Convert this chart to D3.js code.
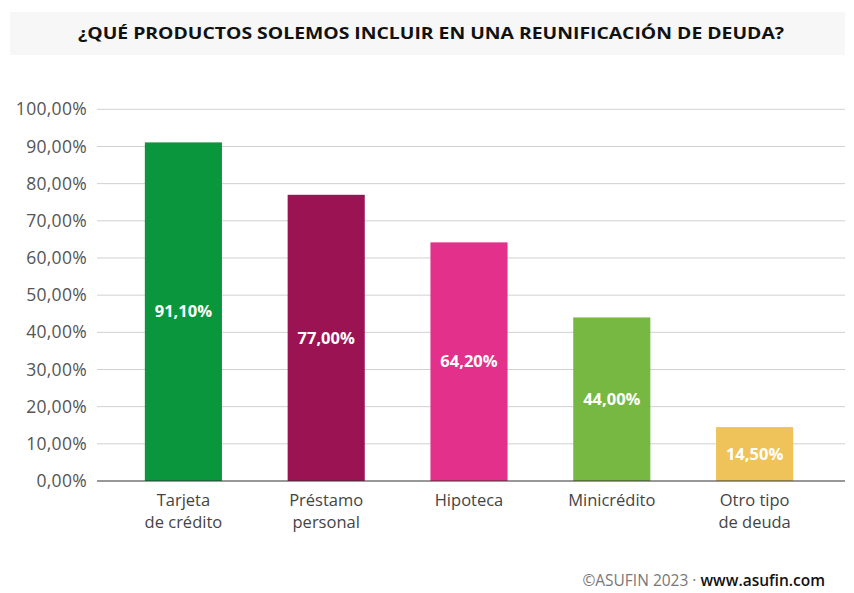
<!DOCTYPE html>
<html>
<head>
<meta charset="utf-8">
<script src="https://cdn.jsdelivr.net/npm/d3@7"></script>
<style>
  body { margin: 0; background: #fff; }
  svg { font-family: "Open Sans", sans-serif; }
</style>
</head>
<body>
<svg width="854" height="593"></svg>
<script>
var categories = [["Tarjeta", "de crédito"], ["Préstamo", "personal"], ["Hipoteca"], ["Minicrédito"], ["Otro tipo", "de deuda"]];
var values = [91.1, 77.0, 64.2, 44.0, 14.5];
var colors = ["#0a963c", "#9b1352", "#e3308a", "#77b843", "#f0c35a"];
var yTicks = [0, 10, 20, 30, 40, 50, 60, 70, 80, 90, 100];

var svg = d3.select('svg');
var fmt = function(v) { return d3.format('.2f')(v).replace('.', ',') + '%'; };

// title band
svg.append('rect')
    .attr('x', 10).attr('y', 12)
    .attr('width', 835).attr('height', 43)
    .attr('fill', '#f7f7f7');

svg.append('text')
    .attr('x', 431).attr('y', 39)
    .attr('text-anchor', 'middle')
    .attr('font-size', 16.5)
    .attr('font-weight', 700)
    .attr('fill', '#111')
    .attr('textLength', 706)
    .attr('lengthAdjust', 'spacingAndGlyphs')
    .text('¿QUÉ PRODUCTOS SOLEMOS INCLUIR EN UNA REUNIFICACIÓN DE DEUDA?');

var x = d3.scaleBand()
    .domain(d3.range(values.length))
    .range([112, 826])
    .paddingInner(0.46)
    .paddingOuter(0.23);

var y = d3.scaleLinear()
    .domain([0, 100])
    .range([481, 109.3]);

// gridlines
svg.append('g')
  .selectAll('line')
  .data(yTicks.slice(1))
  .join('line')
    .attr('x1', 97).attr('x2', 845)
    .attr('y1', function(d) { return y(d); })
    .attr('y2', function(d) { return y(d); })
    .attr('stroke', '#d0d0d0')
    .attr('stroke-width', 1);

// y labels
svg.append('g')
  .selectAll('text')
  .data(yTicks)
  .join('text')
    .attr('x', 87)
    .attr('y', function(d) { return y(d); })
    .attr('dy', '0.35em')
    .attr('text-anchor', 'end')
    .attr('font-size', 17.5)
    .attr('letter-spacing', 0.3)
    .attr('fill', '#555')
    .text(fmt);

// bars
var bars = svg.append('g')
  .selectAll('g')
  .data(values)
  .join('g');

bars.append('rect')
    .attr('x', function(d, i) { return x(i); })
    .attr('y', function(d) { return y(d); })
    .attr('width', x.bandwidth())
    .attr('height', function(d) { return y(0) - y(d); })
    .attr('fill', function(d, i) { return colors[i]; });

bars.append('text')
    .attr('x', function(d, i) { return x(i) + x.bandwidth() / 2; })
    .attr('y', function(d) { return (y(d) + y(0)) / 2; })
    .attr('dy', '0.35em')
    .attr('text-anchor', 'middle')
    .attr('font-size', 16.5)
    .attr('font-weight', 700)
    .attr('fill', '#fff')
    .text(fmt);

// baseline
svg.append('line')
    .attr('x1', 97).attr('x2', 845)
    .attr('y1', y(0)).attr('y2', y(0))
    .attr('stroke', '#333')
    .attr('stroke-width', 1.2);

// category labels
var cat = svg.append('g')
  .selectAll('text')
  .data(categories)
  .join('text')
    .attr('x', function(d, i) { return x(i) + x.bandwidth() / 2; })
    .attr('y', 506)
    .attr('text-anchor', 'middle')
    .attr('font-size', 16.5)
    .attr('fill', '#444');

cat.selectAll('tspan')
  .data(function(d) { return d; })
  .join('tspan')
    .attr('x', function() { return d3.select(this.parentNode).attr('x'); })
    .attr('dy', function(d, i) { return i ? 22 : 0; })
    .text(function(d) { return d; });

// footer
var foot = svg.append('text')
    .attr('x', 825).attr('y', 586)
    .attr('text-anchor', 'end')
    .attr('font-size', 15.5);
foot.append('tspan').attr('fill', '#777').text('©ASUFIN 2023 · ');
foot.append('tspan').attr('fill', '#111').attr('font-weight', 600).text('www.asufin.com');
</script>
</body>
</html>
